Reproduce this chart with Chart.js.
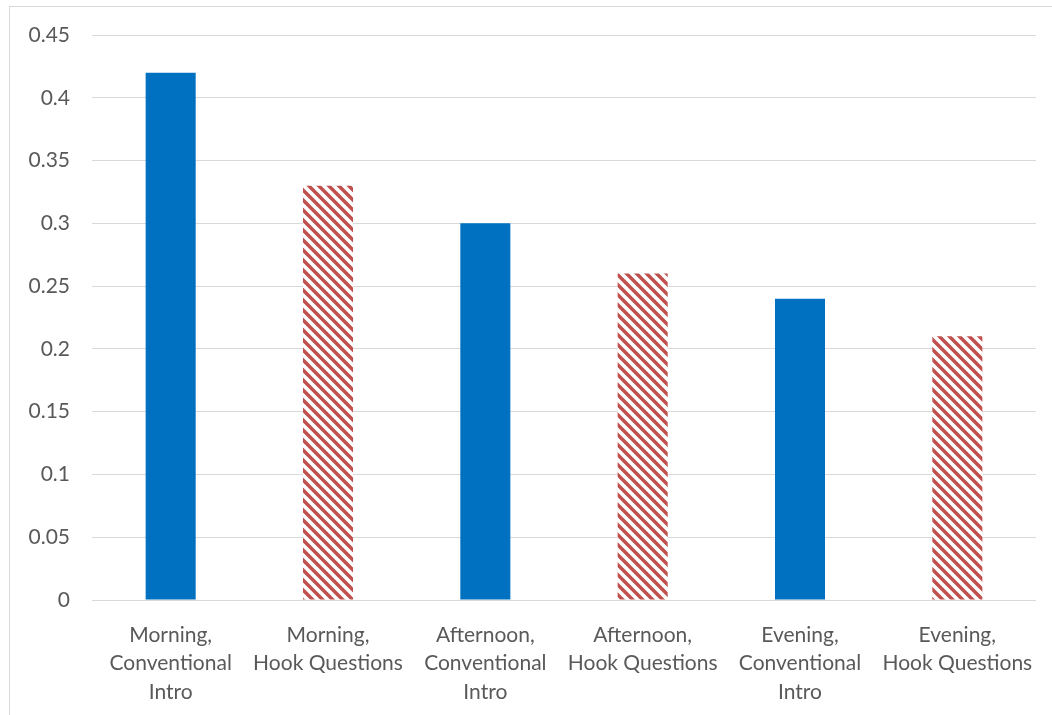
<!DOCTYPE html>
<html>
<head>
<meta charset="utf-8">
<script src="https://cdn.jsdelivr.net/npm/chart.js@4"></script>
<style>
  body { margin: 0; background: #fff; }
  #frame {
    position: absolute; left: 9px; top: 6px;
    width: 1043px; height: 709px;
    border-left: 1px solid #d9d9d9; border-top: 1px solid #d9d9d9;
  }
  #wrap { position: absolute; left: 0; top: 0; width: 1042px; height: 708px; }
</style>
</head>
<body>
<div id="frame"><div id="wrap"><canvas id="myChart"></canvas></div></div>
<script>
const categories = [
    ['Morning,', 'Conventional', 'Intro'],
    ['Morning,', 'Hook Questions'],
    ['Afternoon,', 'Conventional', 'Intro'],
    ['Afternoon,', 'Hook Questions'],
    ['Evening,', 'Conventional', 'Intro'],
    ['Evening,', 'Hook Questions']
];
const values = [0.42, 0.33, 0.30, 0.26, 0.24, 0.21];
const yTicks = [0, 0.05, 0.1, 0.15, 0.2, 0.25, 0.3, 0.35, 0.4, 0.45];

// diagonal red stripes for the "Hook Questions" bars
function stripes() {
    const s = 10;
    const c = document.createElement('canvas');
    c.width = s; c.height = s;
    const g = c.getContext('2d');
    g.fillStyle = '#fff';
    g.fillRect(0, 0, s, s);
    g.strokeStyle = '#c0504d';
    g.lineWidth = 3.5;
    g.beginPath();
    for (let k = -1; k <= 1; k++) {
        g.moveTo(k * s - 1, -1);
        g.lineTo(k * s + s + 1, s + 1);
    }
    g.stroke();
    return g.createPattern(c, 'repeat');
}

const ctx = document.getElementById('myChart').getContext('2d');
const hatch = stripes();
const colors = values.map((v, i) => i % 2 === 0 ? '#0070c0' : hatch);

new Chart(ctx, {
    type: 'bar',
    data: {
        labels: categories,
        datasets: [{
            data: values,
            backgroundColor: colors,
            hoverBackgroundColor: colors,
            categoryPercentage: 1,
            barPercentage: 0.318
        }]
    },
    options: {
        responsive: true,
        maintainAspectRatio: false,
        animation: false,
        layout: { padding: { top: 28, right: 16, left: 0, bottom: 0 } },
        plugins: {
            legend: { display: false },
            tooltip: { enabled: false }
        },
        scales: {
            x: {
                grid: { display: false },
                border: { display: false },
                ticks: {
                    color: '#595959',
                    font: { family: 'Lato', size: 21, lineHeight: 1.35 },
                    padding: 13,
                    maxRotation: 0,
                    autoSkip: false
                },
                afterFit: (s) => { s.height = 115; }
            },
            y: {
                min: 0,
                max: 0.45,
                afterBuildTicks: (s) => { s.ticks = yTicks.map(v => ({ value: v })); },
                grid: { color: '#d9d9d9', lineWidth: 1, drawTicks: false },
                border: { display: false },
                ticks: {
                    color: '#595959',
                    font: { family: 'Lato', size: 21 },
                    padding: 22,
                    callback: (v) => String(v)
                },
                afterFit: (s) => {
                    s.width = 82;
                    s.paddingTop = 0;
                    s.paddingBottom = 0;
                }
            }
        }
    }
});
</script>
</body>
</html>
